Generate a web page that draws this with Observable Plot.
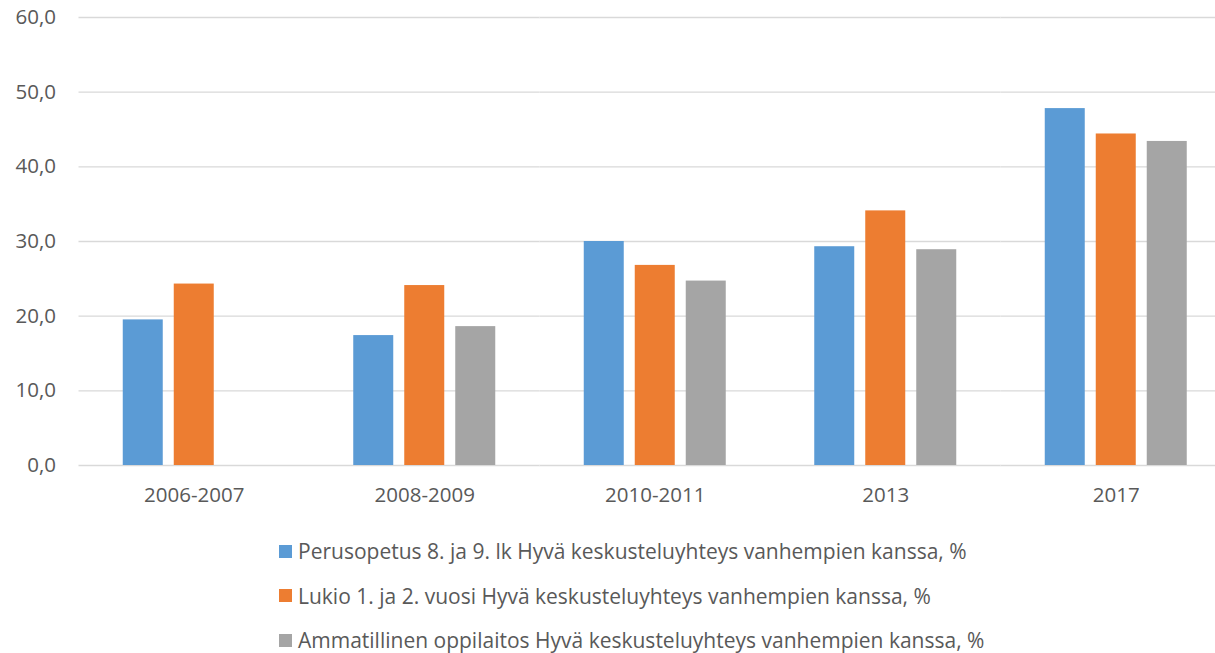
<!DOCTYPE html>
<html>
<head>
<meta charset="utf-8">
<script src="https://cdn.jsdelivr.net/npm/d3@7"></script>
<script src="https://cdn.jsdelivr.net/npm/@observablehq/plot@0.6"></script>
<style>
  body { margin: 0; background: #fff; font-family: "Open Sans", sans-serif; }
  #chart { width: 1215px; overflow: hidden; }
  .legend { padding-top: 9px; padding-left: 279px; color: #595959; font-size: 21px; }
  .legend .row { display: flex; align-items: center; height: 44.5px; white-space: nowrap; }
  .legend .sw { width: 13px; height: 13px; margin-right: 6px; flex: none; }
</style>
</head>
<body>
<div id="chart"></div>
<div class="legend" id="legend"></div>
<script>
const categories = ["2006-2007", "2008-2009", "2010-2011", "2013", "2017"];
const seriesNames = [
  "Perusopetus 8. ja 9. lk Hyvä keskusteluyhteys vanhempien kanssa, %",
  "Lukio 1. ja 2. vuosi Hyvä keskusteluyhteys vanhempien kanssa, %",
  "Ammatillinen oppilaitos Hyvä keskusteluyhteys vanhempien kanssa, %"
];
const perusopetus = [19.5, 17.4, 30.0, 29.3, 47.8];
const lukio = [24.3, 24.1, 26.8, 34.1, 44.4];
const ammatillinen = [null, 18.6, 24.7, 28.9, 43.4];
const colors = ["#5B9BD5", "#ED7D31", "#A5A5A5"];
const yTicks = [0, 10, 20, 30, 40, 50, 60];

const seriesValues = [perusopetus, lukio, ammatillinen];
const rows = [];
categories.forEach((c, i) => {
  seriesValues.forEach((vals, j) => {
    if (vals[i] != null) rows.push({category: c, series: seriesNames[j], value: vals[i]});
  });
});

const fmt = d => d.toFixed(1).replace(".", ",");

const chart = Plot.plot({
  width: 1215,
  height: 520,
  marginTop: 17,
  marginBottom: 55,
  marginLeft: 78.5,
  marginRight: 0,
  style: {fontSize: "20.5px", fontFamily: "'Open Sans', sans-serif", color: "#595959", background: "#fff"},
  fx: {domain: categories, range: [78.5, 1231], paddingInner: 0, paddingOuter: 0, round: false, label: null, axis: "bottom", tickSize: 0, tickPadding: 22, fontSize: 21},
  x: {domain: seriesNames, paddingInner: 11 / 51, paddingOuter: 0.8676, round: false, axis: null},
  y: {domain: [0, 60], ticks: yTicks, tickFormat: fmt, tickSize: 0, tickPadding: 23, label: null},
  color: {domain: seriesNames, range: colors},
  marks: [
    Plot.gridY(yTicks, {stroke: "#d9d9d9", strokeOpacity: 1, strokeWidth: 1.3}),
    Plot.barY(rows, {fx: "category", x: "series", y: "value", fill: "series"})
  ]
});
document.getElementById("chart").appendChild(chart);

const legend = document.getElementById("legend");
seriesNames.forEach((s, i) => {
  const row = document.createElement("div");
  row.className = "row";
  const sw = document.createElement("span");
  sw.className = "sw";
  sw.style.background = colors[i];
  const t = document.createElement("span");
  t.textContent = s;
  row.appendChild(sw);
  row.appendChild(t);
  legend.appendChild(row);
});
</script>
</body>
</html>
